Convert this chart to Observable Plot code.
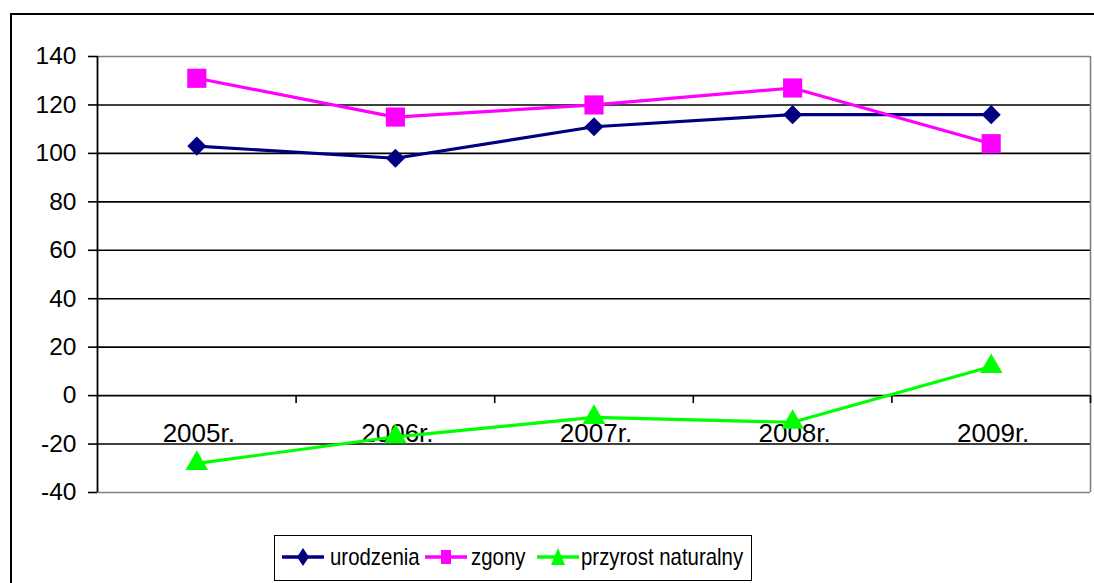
<!DOCTYPE html>
<html>
<head>
<meta charset="utf-8">
<script src="https://cdn.jsdelivr.net/npm/d3@7"></script>
<script src="https://cdn.jsdelivr.net/npm/@observablehq/plot@0.6"></script>
<style>
  html, body { margin: 0; padding: 0; overflow: hidden; background: #fff; }
  body { width: 1094px; height: 583px; position: relative; font-family: "Liberation Sans", Arial, sans-serif; }
  #frame { position: absolute; left: 10px; top: 13px; width: 1200px; height: 700px; border: 2px solid #000; box-sizing: border-box; }
  #chart { position: relative; }
  #chart svg { display: block; background: none; }
  #legend { position: relative; margin-left: 274px; width: 478px; height: 46px; border: 1.5px solid #000;
            box-sizing: border-box; background: #fff;
            font: 24px "Liberation Sans", Arial, sans-serif; color: #000; }
  #legend svg { position: absolute; top: 11px; }
  #legend span { position: absolute; top: 7px; white-space: nowrap; transform: scaleX(0.85); transform-origin: 0 50%; line-height: 28px; }
</style>
</head>
<body>
<div id="frame"></div>
<div id="chart"></div>
<div id="legend"></div>
<script>
const years = ["2005r.", "2006r.", "2007r.", "2008r.", "2009r."];
const urodzenia = [103, 98, 111, 116, 116];
const zgony = [131, 115, 120, 127, 104];
const przyrost = [-28, -17, -9, -11, 12];
const yTicks = [-40, -20, 0, 20, 40, 60, 80, 100, 120, 140];
const seriesNames = ["urodzenia", "zgony", "przyrost naturalny"];
const seriesValues = [urodzenia, zgony, przyrost];
const colors = ["#000080", "#FF00FF", "#00FF00"];
const symbols = ["diamond2", "square", "triangle"];
const radii = [8.6, 10.8, 8.4];

const rows = [];
seriesNames.forEach((s, k) => seriesValues[k].forEach((v, i) => rows.push({i, year: years[i], value: v, series: s})));
const idx = years.map((_, i) => i);
const boundaries = years.map((_, i) => i + 0.5);
const yMin = yTicks[0], yMax = yTicks[yTicks.length - 1];
const innerGrid = yTicks.filter(t => t !== yMin && t !== yMax);

const marks = [
  Plot.ruleY(innerGrid, {y: d => d, stroke: "#000", strokeWidth: 1.6}),
  Plot.ruleY([yMin, yMax], {y: d => d, stroke: "#808080", strokeWidth: 1.6}),
  Plot.ruleX([years.length - 0.5], {x: d => d, y1: yMin, y2: yMax, stroke: "#808080", strokeWidth: 1.6}),
  Plot.ruleX([-0.5], {x: d => d, y1: yMin, y2: yMax, stroke: "#000", strokeWidth: 1.8}),
  Plot.ruleY(yTicks, {y: d => d, x1: -0.5, x2: -0.5, insetLeft: -9, stroke: "#000", strokeWidth: 1.6}),
  Plot.text(yTicks, {y: d => d, x: -0.5, text: d => String(d), textAnchor: "end", dx: -21, fontSize: 24.5, fill: "#000"}),
  Plot.ruleX(boundaries, {x: d => d, y1: 0, y2: -3.3, stroke: "#000", strokeWidth: 1.6}),
  Plot.text(idx, {x: d => d, y: 0, text: d => years[d], dy: 38, dx: 2, fontSize: 26, fill: "#000"}),
];
seriesNames.forEach((s, k) => {
  const d = rows.filter(r => r.series === s);
  marks.push(Plot.line(d, {x: "i", y: "value", stroke: colors[k], strokeWidth: 3.2}));
});
seriesNames.forEach((s, k) => {
  const d = rows.filter(r => r.series === s);
  marks.push(Plot.dot(d, {x: "i", y: "value", symbol: symbols[k], r: radii[k], fill: colors[k], stroke: "none"}));
});

const chart = Plot.plot({
  width: 1094,
  height: 535,
  marginLeft: 97,
  marginRight: 4,
  marginTop: 56,
  marginBottom: 43,
  style: {background: "none", fontFamily: "'Liberation Sans', Arial, sans-serif", color: "#000", overflow: "visible"},
  x: {domain: [-0.5, years.length - 0.5], axis: null},
  y: {domain: [yMin, yMax], axis: null},
  marks
});
document.getElementById("chart").appendChild(chart);

// legend
const legend = document.getElementById("legend");
const ns = "http://www.w3.org/2000/svg";
const swatchLeft = [7, 150, 262];
const textLeft = [55, 196, 306];
const shapes = ["M21,1L27,10L21,19L15,10Z", "M16,3H26V17H16Z", "M21,1L28,18H14Z"];
seriesNames.forEach((s, k) => {
  const sw = document.createElementNS(ns, "svg");
  sw.setAttribute("width", 42); sw.setAttribute("height", 20);
  sw.style.left = swatchLeft[k] + "px";
  const ln = document.createElementNS(ns, "line");
  ln.setAttribute("x1", 0); ln.setAttribute("x2", 42); ln.setAttribute("y1", 10); ln.setAttribute("y2", 10);
  ln.setAttribute("stroke", colors[k]); ln.setAttribute("stroke-width", 3.5);
  sw.appendChild(ln);
  const p = document.createElementNS(ns, "path");
  p.setAttribute("d", shapes[k]);
  p.setAttribute("fill", colors[k]);
  sw.appendChild(p);
  legend.appendChild(sw);
  const t = document.createElement("span");
  t.textContent = s;
  t.style.left = textLeft[k] + "px";
  legend.appendChild(t);
});
</script>
</body>
</html>
